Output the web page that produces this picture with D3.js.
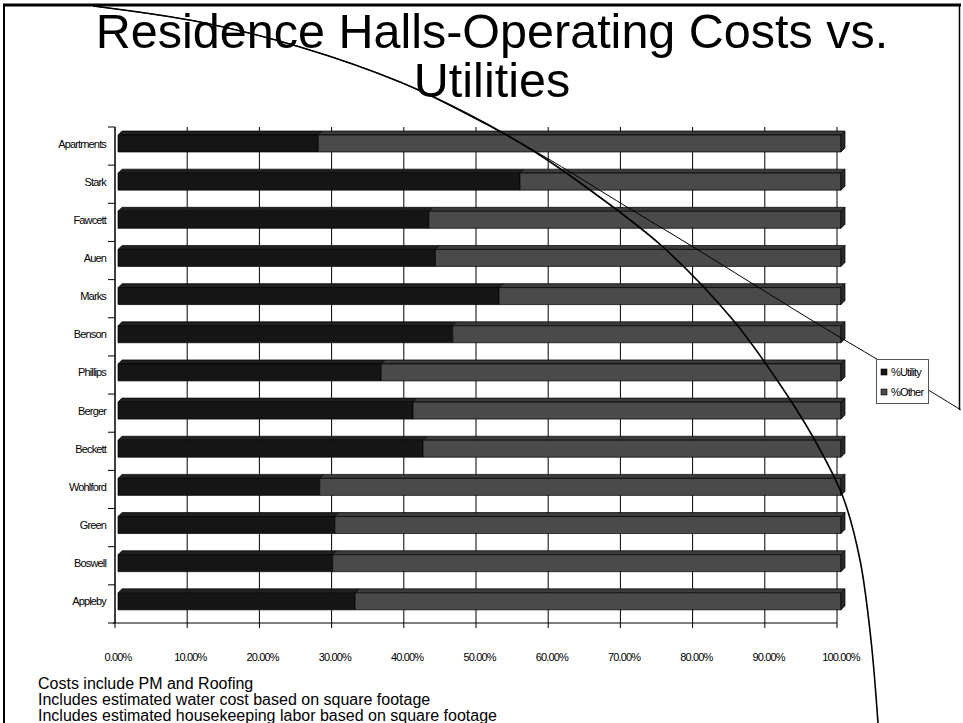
<!DOCTYPE html>
<html>
<head>
<meta charset="utf-8">
<script src="https://cdn.jsdelivr.net/npm/d3@7"></script>
<style>
  html, body { margin: 0; padding: 0; background: #fff; }
  svg { display: block; }
  .tiny { font-family: "Liberation Sans", Arial, sans-serif; font-size: 11px; letter-spacing: -0.85px; fill: #000; }
</style>
</head>
<body>
<svg id="chart" width="963" height="723"></svg>
<script>
// ---- data ----
const categories = ["Apartments", "Stark", "Fawcett", "Auen", "Marks", "Benson", "Phillips",
                    "Berger", "Beckett", "Wohlford", "Green", "Boswell", "Appleby"];
const utilityPct = [27.7, 55.6, 43.0, 43.9, 52.7, 46.3, 36.4, 40.8, 42.2, 27.9, 30.0, 29.7, 32.8];
const otherPct   = [72.3, 44.4, 57.0, 56.1, 47.3, 53.7, 63.6, 59.2, 57.8, 72.1, 70.0, 70.3, 67.2];
const seriesNames = ["%Utility", "%Other"];
const xTickValues = [0, 10, 20, 30, 40, 50, 60, 70, 80, 90, 100];
const xTickLabels = ["0.00%", "10.00%", "20.00%", "30.00%", "40.00%", "50.00%",
                     "60.00%", "70.00%", "80.00%", "90.00%", "100.00%"];
const titleLines = ["Residence Halls-Operating Costs vs.", "Utilities"];
const notes = ["Costs include PM and Roofing",
               "Includes estimated water cost based on square footage",
               "Includes estimated housekeeping labor based on square footage"];

// ---- layout ----
const svg = d3.select("#chart");
const plot = { left: 115, right: 837, top: 127, bottom: 623 };
const depth = 4;               // 3-D extrusion of the bars
const faceColors = {
  "%Utility": { front: "#151515", top: "#202020" },
  "%Other":   { front: "#4a4a4a", top: "#3b3b3b" }
};
const sideColor = "#2a2a2a";

// wall / gridline scale and the (slightly shifted) bar-front scale
const xGrid = d3.scaleLinear().domain([0, 100]).range([plot.left, plot.right]);
const xBar  = d3.scaleLinear().domain([0, 100]).range([plot.left + 3, plot.right + 4]);
const y = d3.scaleBand().domain(categories).range([plot.top, plot.bottom]).padding(0);
const barOffset = y.step() * 0.21;
const barH = y.step() * 0.445;

// ---- slide frame and decorative arcs ----
const deco = svg.append("g").attr("fill", "none").attr("stroke", "#000");
deco.append("line").attr("x1", 3).attr("x2", 961).attr("y1", 5).attr("y2", 5).attr("stroke-width", 3);
deco.append("line").attr("x1", 4).attr("x2", 4).attr("y1", 4).attr("y2", 723).attr("stroke-width", 2);
deco.append("line").attr("x1", 959.5).attr("x2", 959.5).attr("y1", 4).attr("y2", 410).attr("stroke-width", 1.5);

const arc = d3.line().curve(d3.curveCatmullRom.alpha(0.5));

// ---- gridlines and axes ----
const grid = svg.append("g");
grid.selectAll("line.grid").data(xTickValues).join("line")
  .attr("class", "grid")
  .attr("x1", d => xGrid(d)).attr("x2", d => xGrid(d))
  .attr("y1", plot.top).attr("y2", plot.bottom + 5)
  .attr("stroke", "#000").attr("stroke-width", 1);

grid.append("line").attr("x1", plot.left - 2).attr("x2", plot.right)
  .attr("y1", plot.bottom).attr("y2", plot.bottom).attr("stroke", "#000");
grid.append("line").attr("x1", plot.left).attr("x2", plot.left)
  .attr("y1", plot.top).attr("y2", plot.bottom).attr("stroke", "#000");
const bandEdges = categories.map(c => y(c)).concat([plot.bottom]);
grid.selectAll("line.ytick").data(bandEdges).join("line")
  .attr("class", "ytick")
  .attr("x1", plot.left - 7).attr("x2", plot.left)
  .attr("y1", d => d).attr("y2", d => d).attr("stroke", "#000");

// ---- 3-D stacked bars ----
const table = categories.map((c, i) => ({ category: c, "%Utility": utilityPct[i], "%Other": otherPct[i] }));
const stacked = d3.stack().keys(seriesNames)(table);

const bars = svg.append("g").attr("stroke", "#000").attr("stroke-width", 0.7).attr("stroke-linejoin", "round");
stacked.forEach((layer, li) => {
  const key = layer.key;
  const g = bars.append("g");
  layer.forEach(seg => {
    const x0 = xBar(seg[0]), x1 = xBar(seg[1]);
    const yt = y(seg.data.category) + barOffset;
    g.append("polygon")
      .attr("points", [[x0, yt], [x0 + depth, yt - depth], [x1 + depth, yt - depth], [x1, yt]].join(" "))
      .attr("fill", faceColors[key].top);
    g.append("rect").attr("x", x0).attr("y", yt).attr("width", x1 - x0).attr("height", barH)
      .attr("fill", faceColors[key].front);
    if (li === stacked.length - 1) {
      g.append("polygon")
        .attr("points", [[x1, yt], [x1 + depth, yt - depth], [x1 + depth, yt + barH - depth], [x1, yt + barH]].join(" "))
        .attr("fill", sideColor);
    }
  });
});

// ---- axis labels ----
svg.append("g").selectAll("text").data(categories).join("text")
  .attr("class", "tiny")
  .attr("x", 106).attr("y", d => y(d) + barOffset + barH / 2 + 4)
  .attr("text-anchor", "end").text(d => d);

svg.append("g").selectAll("text").data(xTickValues).join("text")
  .attr("class", "tiny")
  .attr("x", d => xBar(d)).attr("y", 661)
  .attr("text-anchor", "middle").text((d, i) => xTickLabels[i]);

// ---- decorative arcs over the chart ----
const bigArc = [[93, 6], [200, 22], [300, 47], [400, 82], [470, 115], [535, 152], [590, 190],
                [663, 247], [733, 320], [777, 380], [813, 437], [843, 497], [860, 560], [871, 640], [878, 723]];
const thinArc = [[93, 6], [200, 22], [300, 47], [400, 82], [470, 116], [540, 154], [627, 207],
                 [690, 245], [813, 321], [880, 361], [930, 391], [961, 410]];
deco.raise();
deco.append("path").attr("d", arc(thinArc)).attr("stroke-width", 1);
deco.append("path").attr("d", arc(bigArc)).attr("stroke-width", 1.6);

// ---- legend ----
const legend = svg.append("g");
legend.append("rect").attr("x", 876.5).attr("y", 359.5).attr("width", 52).attr("height", 44)
  .attr("fill", "#fff").attr("stroke", "#555");
seriesNames.forEach((s, i) => {
  legend.append("rect").attr("x", 881).attr("y", 369 + i * 20).attr("width", 6).attr("height", 6)
    .attr("fill", faceColors[s].front).attr("stroke", "#000").attr("stroke-width", 0.6);
  legend.append("text").attr("class", "tiny").attr("x", 891).attr("y", 376 + i * 20).text(s);
});

// ---- title and notes ----
svg.append("g").selectAll("text").data(titleLines).join("text")
  .attr("x", 492).attr("y", (d, i) => 48 + i * 49)
  .attr("text-anchor", "middle")
  .attr("font-family", "Liberation Sans, Arial, sans-serif")
  .attr("font-size", 48.5).attr("fill", "#000").text(d => d);

svg.append("g").selectAll("text").data(notes).join("text")
  .attr("x", 38).attr("y", (d, i) => 689 + i * 16)
  .attr("font-family", "Liberation Sans, Arial, sans-serif")
  .attr("font-size", 16).attr("fill", "#000").text(d => d);
</script>
</body>
</html>
